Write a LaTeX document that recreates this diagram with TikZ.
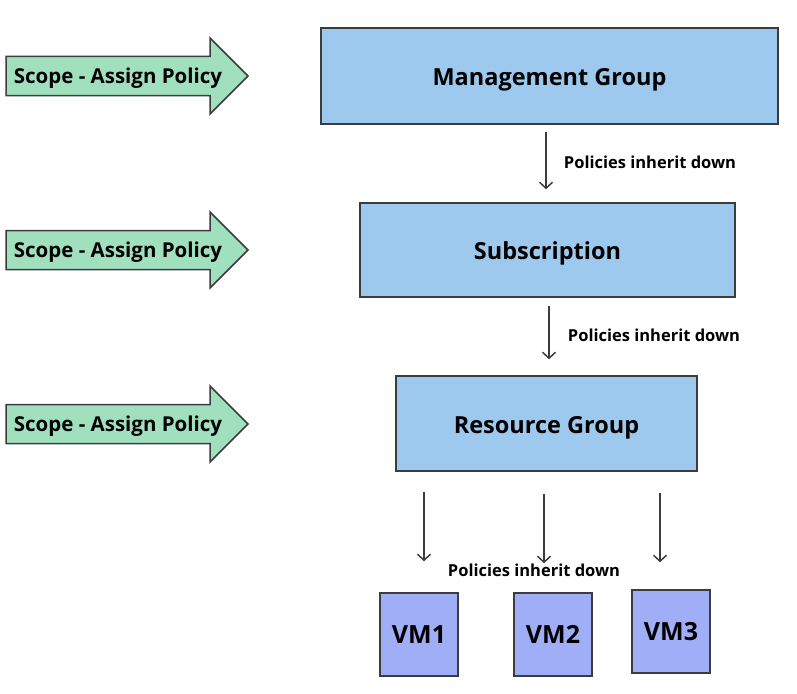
\documentclass[tikz,border=0pt]{standalone}
\usepackage{fontspec}
\setmainfont{Open Sans}
\usetikzlibrary{arrows.meta}
\definecolor{boxblue}{RGB}{157,201,239}
\definecolor{vmblue}{RGB}{160,174,247}
\definecolor{scopegreen}{RGB}{160,224,190}
\definecolor{edge}{RGB}{60,60,60}

\begin{document}
\begin{tikzpicture}[x=1pt,y=-1pt,>={Straight Barb[length=6pt,width=13pt]},
  level/.style={draw=edge,line width=1.5pt,fill=boxblue,rectangle,text height=19pt,text depth=0pt,
    font=\bfseries\fontsize{23.5}{26}\selectfont},
  vm/.style={draw=edge,line width=1.5pt,fill=vmblue,rectangle,minimum width=78pt,minimum height=83pt,font=\bfseries\fontsize{25}{28}\selectfont},
  scope/.style={text height=14.8pt,text depth=0pt,font=\bfseries\fontsize{20.5}{23}\selectfont},
  note/.style={font=\bfseries\fontsize{16.5}{19}\selectfont},
  down/.style={->,draw=edge,line width=1.5pt}]
\useasboundingbox (0,0) rectangle (797,693);
% scope arrows on the left
\foreach \c/\n in {76/scopeA,250/scopeB,424/scopeC}{
  \draw[draw=edge,line width=1.5pt,fill=scopegreen] (6,\c-19.5) -- (210,\c-19.5) -- (210,\c-38) -- (248,\c)
    -- (210,\c+38) -- (210,\c+19.5) -- (6,\c+19.5) -- cycle;
  \node[scope] (\n) at (118,\c) {Scope - Assign Policy};
}
% hierarchy
\node[level,minimum width=457pt,minimum height=96pt] (mgmt) at (549.5,76) {Management Group};
\node[level,minimum width=375pt,minimum height=94pt] (subs) at (547.5,250) {Subscription};
\node[level,minimum width=301pt,minimum height=95pt] (rgroup) at (546.5,423.5) {Resource Group};
\node[vm] (vm1) at (419,634.5) {VM1};
\node[vm] (vm2) at (553,634.5) {VM2};
\node[vm] (vm3) at (671,631.5) {VM3};
% inherit arrows
\draw[down,shorten <=7pt,shorten >=13pt] (mgmt.south -| 546,0) -- (subs.north -| 546,0);
\node[note] (noteA) at (650,162) {Policies inherit down};
\draw[down,shorten <=8pt,shorten >=16pt] (subs.south -| 549,0) -- (rgroup.north -| 549,0);
\node[note] (noteB) at (654,335) {Policies inherit down};
\draw[down,shorten <=20pt,shorten >=31pt] (rgroup.south -| 424,0) -- (vm1.north -| 424,0);
\draw[down,shorten <=22pt,shorten >=29pt] (rgroup.south -| 544,0) -- (vm2.north -| 544,0);
\draw[down,shorten <=21pt,shorten >=27pt] (rgroup.south -| 660,0) -- (vm3.north -| 660,0);
\node[note] (noteC) at (534,570) {Policies inherit down};
\end{tikzpicture}
\end{document}
